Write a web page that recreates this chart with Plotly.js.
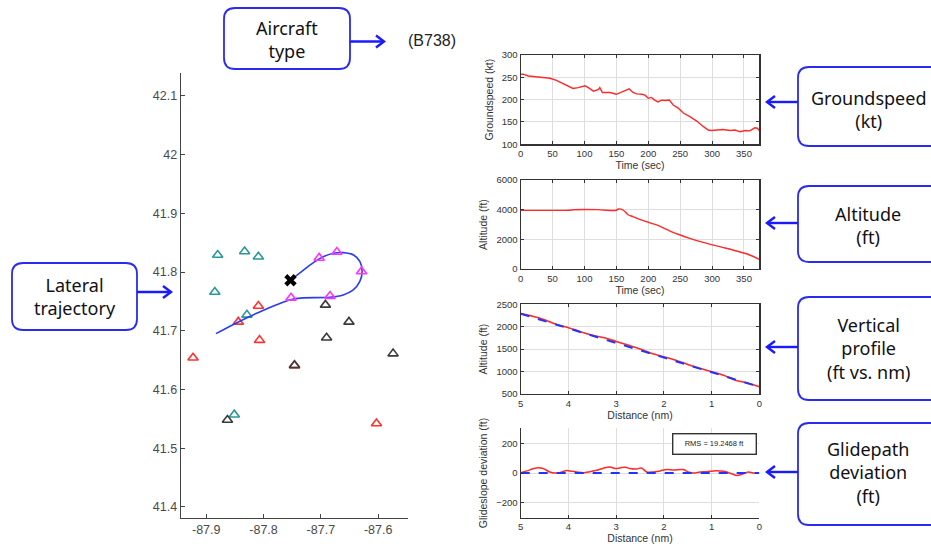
<!DOCTYPE html>
<html><head><meta charset="utf-8">
<script src="https://cdn.plot.ly/plotly-3.0.1.min.js"></script>
<style>html,body{margin:0;padding:0;background:#fff}#chart{width:931px;height:546px}</style>
</head><body><div id="chart"></div>
<script>
// ---- Lateral trajectory (lon/lat) ----
const tealLon = [-87.880,-87.833,-87.809,-87.885,-87.829,-87.851];
const tealLat = [41.829,41.835,41.826,41.766,41.727,41.557];
const redLon = [-87.844,-87.809,-87.807,-87.923,-87.603,-87.746];
const redLat = [41.715,41.742,41.684,41.654,41.542,41.641];
const blackLon = [-87.692,-87.651,-87.690,-87.574,-87.746,-87.863];
const blackLat = [41.744,41.715,41.688,41.661,41.641,41.548];
const magLon = [-87.703,-87.672,-87.629,-87.684,-87.752];
const magLat = [41.824,41.834,41.801,41.759,41.756];
const trajLon = [-87.883,-87.844,-87.800,-87.765,-87.748,-87.730,-87.684,-87.661,-87.644,-87.632,-87.628,-87.632,-87.643,-87.661,-87.678,-87.696,-87.716,-87.736,-87.753];
const trajLat = [41.695,41.715,41.735,41.749,41.754,41.756,41.757,41.761,41.769,41.784,41.801,41.818,41.829,41.833,41.832,41.826,41.814,41.799,41.786];
const endLon = [-87.753];
const endLat = [41.786];

// ---- Groundspeed vs time ----
const gsTime = [0,4,12,25,46,56,72,82,90,96,101,106,114,122,124,128,140,150,166,170,176,182,190,195,200,205,210,215,221,226,233,239,247,255,265,276,286,294,299,307,317,328,336,344,352,359,367,371,374];
const gsSpeed = [257,257,253,251,248,243,231,225,227,229,231,227,219,223,227,216,216,212,221,224,216,213,212,210,203,205,199,195,199,198,199,188,181,170,162,152,140,132,131,132,133,131,132,128,131,130,137,136,131];

// ---- Altitude vs time ----
const altTime = [0,40,77,82,120,145,150,153,157,161,165,169,176,197,213,234,250,265,286,312,338,359,374];
const altFt = [3950,3955,3960,3990,4000,3940,3960,4045,4040,3960,3800,3640,3530,3190,2970,2560,2290,2070,1800,1505,1215,945,650];

// ---- Vertical profile ----
const vpDist = [5,4.75,4.5,4.25,4,3.75,3.5,3.25,3,2.75,2.5,2.25,2,1.75,1.5,1.25,1,0.75,0.5,0.25,0];
const vpAlt = [2292,2233,2155,2048,1979,1889,1811,1753,1673,1590,1505,1401,1332,1252,1159,1073,997,916,808,747,660];
const gpDist = [5,4,3,2,1,0];
const gpAlt = [2290,1964,1638,1312,986,660];

// ---- Glideslope deviation ----
const devDist = [5,4.87,4.73,4.63,4.53,4.39,4.28,4.18,4.04,3.93,3.83,3.69,3.55,3.41,3.27,3.13,3.02,2.92,2.81,2.71,2.57,2.47,2.36,2.22,2.08,1.94,1.80,1.59,1.49,1.38,1.24,1.10,0.96,0.75,0.58,0.47,0.37,0.23,0.13,0];
const devFt = [2,14,30,36,30,7,0,2,16,11,7,2,9,18,32,41,30,34,39,30,27,34,7,7,14,23,20,23,7,0,7,9,14,11,-5,-16,-9,7,0,0];
const zeroDist = [5,0];
const zeroFt = [0,0];

const W = 931, H = 546;
const px = p => p / W, py = p => 1 - p / H;

const tri = (lon, lat, c) => ({type:'scatter', mode:'markers', x:lon, y:lat, xaxis:'x', yaxis:'y',
  marker:{symbol:'triangle-up-open', size:9, color:c, line:{width:1.6, color:c}}, hoverinfo:'none'});
const RED = '#ff2a2a', BLUE = '#2233ff';

const traces = [
  tri(tealLon, tealLat, '#2a9898'),
  tri(redLon, redLat, '#ff3030'),
  tri(blackLon, blackLat, '#3a3a3a'),
  {type:'scatter', mode:'lines', x:trajLon, y:trajLat, xaxis:'x', yaxis:'y', line:{color:'#2a3cf0', width:1.6, shape:'spline'}},
  tri(magLon, magLat, '#ff33ff'),
  {type:'scatter', mode:'markers', x:endLon, y:endLat, xaxis:'x', yaxis:'y', marker:{symbol:'x', size:11, color:'#000'}},
  {type:'scatter', mode:'lines', x:gsTime, y:gsSpeed, xaxis:'x2', yaxis:'y2', line:{color:RED, width:1.4}},
  {type:'scatter', mode:'lines', x:altTime, y:altFt, xaxis:'x3', yaxis:'y3', line:{color:RED, width:1.4, shape:'spline'}},
  {type:'scatter', mode:'lines', x:vpDist, y:vpAlt, xaxis:'x4', yaxis:'y4', line:{color:RED, width:1.6, shape:'spline'}},
  {type:'scatter', mode:'lines', x:gpDist, y:gpAlt, xaxis:'x4', yaxis:'y4', line:{color:BLUE, width:2, dash:'dash'}},
  {type:'scatter', mode:'lines', x:devDist, y:devFt, xaxis:'x5', yaxis:'y5', line:{color:RED, width:1.5, shape:'spline'}},
  {type:'scatter', mode:'lines', x:zeroDist, y:zeroFt, xaxis:'x5', yaxis:'y5', line:{color:BLUE, width:2, dash:'dash'}}
];

const tf = {family:'Liberation Sans, Arial, sans-serif', size:9.5, color:'#333'};
const ttf = {family:'Liberation Sans, Arial, sans-serif', size:10.5, color:'#333'};
const lf = {family:'Liberation Sans, Arial, sans-serif', size:12.5, color:'#4a4a4a'};
const rightX = [px(520.7), px(759.3)];
function rAx(extra){
  return Object.assign({showline:true, linecolor:'#333', linewidth:1.2, mirror:'ticks', ticks:'inside', ticklen:3,
    tickcolor:'#333', showgrid:true, gridcolor:'#dedede', gridwidth:1, zeroline:false, tickfont:tf}, extra);
}

const layout = {
  width:W, height:H, margin:{l:0,r:0,t:0,b:0}, paper_bgcolor:'#fff', plot_bgcolor:'rgba(0,0,0,0)',
  showlegend:false,
  xaxis:{domain:[px(181), px(408)], range:[-87.944,-87.548], anchor:'y', showline:true, linecolor:'#444', linewidth:1.4,
    ticks:'inside', ticklen:4, tickcolor:'#444', tickvals:[-87.9,-87.8,-87.7,-87.6], ticktext:['-87.9','-87.8','-87.7','-87.6'],
    showgrid:false, zeroline:false, tickfont:lf},
  yaxis:{domain:[py(518), py(73)], range:[41.381,42.139], anchor:'x', showline:true, linecolor:'#444', linewidth:1.4,
    ticks:'inside', ticklen:4, tickcolor:'#444', tickvals:[41.4,41.5,41.6,41.7,41.8,41.9,42,42.1],
    ticktext:['41.4','41.5','41.6','41.7','41.8','41.9','42','42.1'],
    showgrid:false, zeroline:false, tickfont:lf},
  xaxis2: rAx({domain:rightX, anchor:'y2', range:[0,374], dtick:50, tick0:0, title:{text:'Time (sec)', font:ttf, standoff:2}}),
  yaxis2: rAx({domain:[py(144.3), py(55)], anchor:'x2', range:[100,300], dtick:50, title:{text:'Groundspeed (kt)', font:ttf, standoff:6}}),
  xaxis3: rAx({domain:rightX, anchor:'y3', range:[0,374], dtick:50, tick0:0, title:{text:'Time (sec)', font:ttf, standoff:2}}),
  yaxis3: rAx({domain:[py(269), py(180)], anchor:'x3', range:[0,6000], dtick:2000, title:{text:'Altitude (ft)', font:ttf, standoff:6}}),
  xaxis4: rAx({domain:rightX, anchor:'y4', range:[5,0], dtick:1, title:{text:'Distance (nm)', font:ttf, standoff:2}}),
  yaxis4: rAx({domain:[py(394), py(304.3)], anchor:'x4', range:[500,2500], dtick:500, title:{text:'Altitude (ft)', font:ttf, standoff:6}}),
  xaxis5: rAx({domain:rightX, anchor:'y5', range:[5,0], dtick:1, mirror:false, title:{text:'Distance (nm)', font:ttf, standoff:2}}),
  yaxis5: rAx({domain:[py(517.7), py(428.3)], anchor:'x5', range:[-300,300], dtick:200, tick0:0, mirror:false, title:{text:'Glideslope deviation (ft)', font:ttf, standoff:6}}),
  shapes:[], annotations:[]
};

function rr(x0,y0,x1,y1,r){
  const X=v=>px(v).toFixed(5), Y=v=>py(v).toFixed(5);
  return `M${X(x0+r)},${Y(y0)} L${X(x1-r)},${Y(y0)} Q${X(x1)},${Y(y0)} ${X(x1)},${Y(y0+r)} L${X(x1)},${Y(y1-r)} Q${X(x1)},${Y(y1)} ${X(x1-r)},${Y(y1)} L${X(x0+r)},${Y(y1)} Q${X(x0)},${Y(y1)} ${X(x0)},${Y(y1-r)} L${X(x0)},${Y(y0+r)} Q${X(x0)},${Y(y0)} ${X(x0+r)},${Y(y0)} Z`;
}
const BOX = '#2b2bf0';
function callout(x0,y0,x1,y1,text,cx,cy){
  layout.shapes.push({type:'path', xref:'paper', yref:'paper', path:rr(x0,y0,x1,y1,11), line:{color:BOX, width:1.8}, fillcolor:'#fff', layer:'above'});
  layout.annotations.push({xref:'paper', yref:'paper', x:px(cx), y:py(cy), xanchor:'center', yanchor:'middle', showarrow:false,
    text:text, align:'center', font:{family:'Noto Sans, DejaVu Sans, sans-serif', size:18, color:'#111'}});
}
function arrow(xs, xe, y){
  const X=v=>px(v), Y=v=>py(v);
  const d = xe > xs ? -1 : 1;
  layout.shapes.push({type:'line', xref:'paper', yref:'paper', x0:X(xs), x1:X(xe), y0:Y(y), y1:Y(y), line:{color:'#1a1aff', width:2.4}, layer:'above'});
  layout.shapes.push({type:'path', xref:'paper', yref:'paper',
    path:`M${X(xe+d*8)},${Y(y-6)} L${X(xe)},${Y(y)} L${X(xe+d*8)},${Y(y+6)}`, line:{color:'#1a1aff', width:2.4}, layer:'above'});
}

callout(224,8,350,69,'Aircraft<br>type',287,40);
arrow(350,384,41.5);
layout.annotations.push({xref:'paper', yref:'paper', x:px(432), y:py(41), xanchor:'center', yanchor:'middle', showarrow:false,
  text:'(B738)', font:{family:'Liberation Sans, Arial, sans-serif', size:16, color:'#222'}});
callout(12,263,137,330,'Lateral<br>trajectory',75,296);
arrow(137,171,292);
callout(798,67,942,146,'Groundspeed<br>(kt)',868,110);
arrow(798,767,102);
callout(798,186,942,262,'Altitude<br>(ft)',868,225);
arrow(798,767,223);
callout(798,297,942,400,'Vertical<br>profile<br>(ft vs. nm)',868,348);
arrow(798,767,347);
callout(798,423,942,525,'Glidepath<br>deviation<br>(ft)',868,472);
arrow(798,767,472);

layout.annotations.push({xref:'paper', yref:'paper', x:px(714.7), y:py(444), xanchor:'center', yanchor:'middle', showarrow:false,
  text:'RMS = 19.2468 ft', width:78, height:15, bordercolor:'#333', borderwidth:1.4, borderpad:2, bgcolor:'#fff',
  font:{family:'Liberation Sans, Arial, sans-serif', size:7.5, color:'#222'}});

Plotly.newPlot('chart', traces, layout, {staticPlot:true, displayModeBar:false});
</script></body></html>
